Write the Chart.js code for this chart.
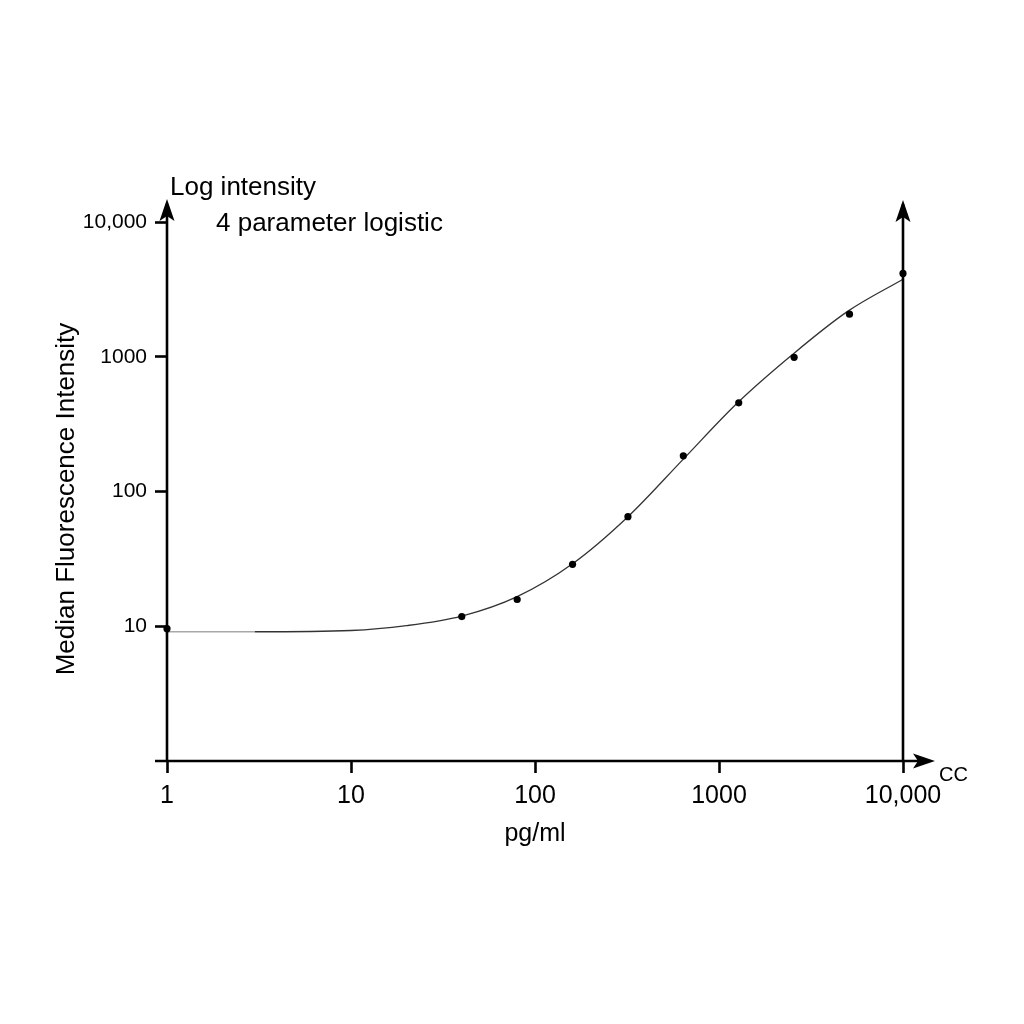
<!DOCTYPE html>
<html><head><meta charset="utf-8">
<script src="https://cdn.jsdelivr.net/npm/chart.js@4"></script>
<style>html,body{margin:0;padding:0;background:#fff}#wrap{width:1024px;height:1024px}</style>
</head><body><div id="wrap"><canvas id="c" width="1024" height="1024"></canvas></div>
<script>
// ---- data ----
const xTickValues = [1, 10, 100, 1000, 10000];
const xTickLabels = ['1', '10', '100', '1000', '10,000'];
const yTickValues = [10, 100, 1000, 10000];
const yTickLabels = ['10', '100', '1000', '10,000'];

// measured standards (pg/ml vs MFI)
const standardConc = [1, 40, 80, 160, 320, 640, 1280, 2560, 5120, 10000];
const standardMFI  = [9.6, 11.8, 15.8, 28.8, 65, 184, 455, 990, 2070, 4150];

// fitted 4PL curve
const curveConc = [1, 3, 10, 20, 40, 80, 160, 320, 640, 1250, 2500, 5000, 10000];
const curveMFI  = [9.1, 9.1, 9.3, 10.1, 11.9, 16.6, 29.1, 65, 174, 450, 1035, 2170, 3760];

const FONT = "'Liberation Sans', Arial, sans-serif";

const toPts = (xs, ys) => xs.map((x, i) => ({x, y: ys[i]}));

function arrow(ctx, tx, ty, dir) {
  // stealth arrow head; dir: 'up' or 'right'
  const L = 22, W = 7.5, N = 17;
  ctx.beginPath();
  if (dir === 'up') {
    ctx.moveTo(tx, ty);
    ctx.lineTo(tx - W, ty + L);
    ctx.lineTo(tx, ty + N);
    ctx.lineTo(tx + W, ty + L);
  } else {
    ctx.moveTo(tx, ty);
    ctx.lineTo(tx - L, ty - W);
    ctx.lineTo(tx - N, ty);
    ctx.lineTo(tx - L, ty + W);
  }
  ctx.closePath();
  ctx.fill();
}

const decor = {
  id: 'decor',
  afterDraw(chart) {
    const {ctx, chartArea: a, scales} = chart;
    const xr = scales.x.getPixelForValue(10000);
    ctx.save();
    ctx.strokeStyle = '#000';
    ctx.fillStyle = '#000';
    ctx.lineWidth = 2.6;
    // x axis
    ctx.beginPath();
    ctx.moveTo(a.left - 12, a.bottom);
    ctx.lineTo(xr + 26, a.bottom);
    ctx.stroke();
    arrow(ctx, xr + 32, a.bottom, 'right');
    // left y axis
    ctx.beginPath();
    ctx.moveTo(a.left, a.bottom);
    ctx.lineTo(a.left, a.top - 18);
    ctx.stroke();
    arrow(ctx, a.left, a.top - 23, 'up');
    // right vertical line at 10,000
    ctx.beginPath();
    ctx.moveTo(xr, a.bottom);
    ctx.lineTo(xr, a.top - 18);
    ctx.stroke();
    arrow(ctx, xr, a.top - 22, 'up');

    // texts
    ctx.textBaseline = 'alphabetic';
    ctx.textAlign = 'left';
    ctx.font = '26px ' + FONT;
    ctx.fillText('Log intensity', 170, 195);
    ctx.fillText('4 parameter logistic', 216, 231);
    ctx.font = '20px ' + FONT;
    ctx.fillText('CC', 939, 781);
    ctx.font = '25px ' + FONT;
    ctx.textAlign = 'center';
    ctx.fillText('pg/ml', (a.left + xr) / 2, 841);
    ctx.save();
    ctx.translate(73.5, 499);
    ctx.rotate(-Math.PI / 2);
    ctx.font = '26px ' + FONT;
    ctx.fillText('Median Fluorescence Intensity', 0, 0);
    ctx.restore();
    ctx.restore();
  }
};

new Chart(document.getElementById('c'), {
  type: 'scatter',
  data: {
    datasets: [
      {
        label: 'Standards',
        data: toPts(standardConc, standardMFI),
        pointRadius: 3.6,
        pointHoverRadius: 3.6,
        backgroundColor: '#000',
        borderColor: '#000',
        borderWidth: 0,
        showLine: false,
        clip: false,
        order: 0
      },
      {
        label: '4PL fit',
        data: toPts(curveConc, curveMFI),
        showLine: true,
        pointRadius: 0,
        borderWidth: 1.3,
        borderColor: '#333',
        cubicInterpolationMode: 'monotone',
        tension: 0.4,
        segment: {
          borderColor: c => (c.p1.parsed.x <= 3 ? '#a8a8a8' : '#333')
        },
        clip: false,
        order: 1
      }
    ]
  },
  options: {
    responsive: false,
    devicePixelRatio: 1,
    animation: false,
    layout: {padding: {left: 0, top: 222, right: 121, bottom: 0}},
    plugins: {legend: {display: false}, tooltip: {enabled: false}},
    scales: {
      x: {
        type: 'logarithmic',
        min: 1, max: 10000,
        border: {display: false},
        grid: {drawOnChartArea: false, drawTicks: true, tickLength: 12, tickWidth: 2.6, tickColor: '#000'},
        ticks: {
          color: '#000', padding: 8, maxRotation: 0, autoSkip: false,
          font: {family: FONT, size: 25},
          callback: (v) => { const i = xTickValues.indexOf(v); return i >= 0 ? xTickLabels[i] : ''; }
        },
        afterBuildTicks: s => { s.ticks = xTickValues.map(v => ({value: v})); },
        afterFit: s => { s.height = 1024 - 761; }
      },
      y: {
        type: 'logarithmic',
        min: 1, max: 10000,
        border: {display: false},
        grid: {drawOnChartArea: false, drawTicks: true, tickLength: 12, tickWidth: 2.6, tickColor: '#000'},
        ticks: {
          color: '#000', padding: 8, autoSkip: false,
          font: {family: FONT, size: 21},
          callback: (v) => { const i = yTickValues.indexOf(v); return i >= 0 ? yTickLabels[i] : ''; }
        },
        afterBuildTicks: s => { s.ticks = yTickValues.map(v => ({value: v})); },
        afterFit: s => { s.width = 167; }
      }
    }
  },
  plugins: [decor]
});
</script>
</body></html>
